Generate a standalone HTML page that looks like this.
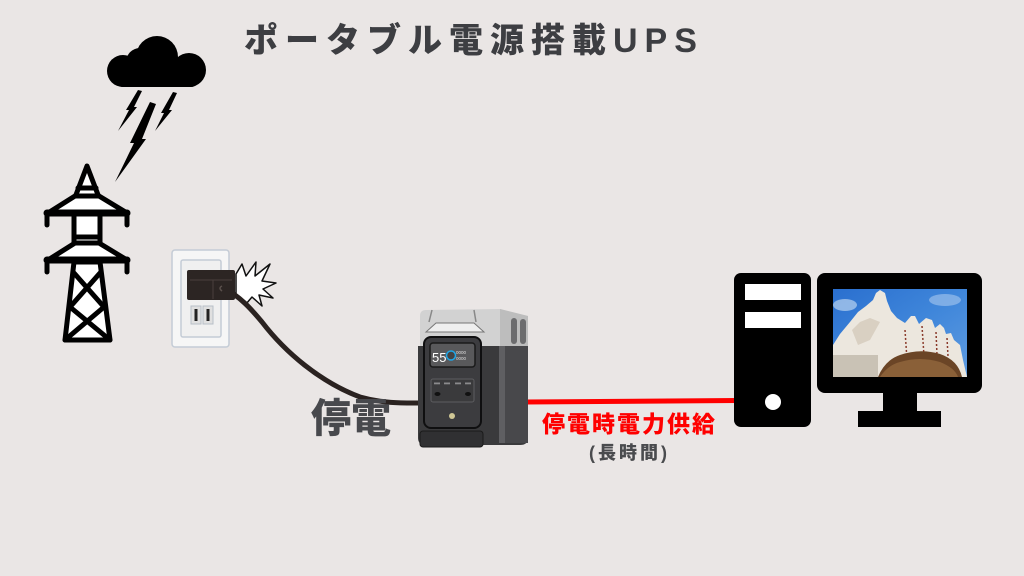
<!DOCTYPE html>
<html><head><meta charset="utf-8">
<style>
html,body{margin:0;padding:0;}
body{width:1024px;height:576px;overflow:hidden;background:#eae6e5;position:relative;font-family:"Liberation Sans","Noto Sans CJK JP",sans-serif;}
.t{position:absolute;white-space:nowrap;font-weight:900;line-height:1;}
svg{position:absolute;left:0;top:0;}
</style></head>
<body>
<svg width="1024" height="576" viewBox="0 0 1024 576">
  <!-- cloud -->
  <g fill="#000">
    <circle cx="157" cy="57" r="21"/>
    <circle cx="123" cy="71" r="16"/>
    <circle cx="189" cy="70" r="17"/>
    <circle cx="140" cy="62" r="14"/>
    <rect x="115" y="66" width="84" height="21" rx="8"/>
    <!-- bolts -->
    <polygon points="138,90 142,91 134,107 137,107 118,131 129,110 126,110"/>
    <polygon points="150,102 156,104 142,139 146,139 115,182 134,143 130,143"/>
    <polygon points="173,92 177,93 169,110 172,110 155,131 164,113 161,113"/>
  </g>
  <!-- power tower -->
  <g stroke="#000" stroke-width="5" fill="#fff" stroke-linejoin="round" stroke-linecap="round">
    <polygon points="87,166 74,200 100,200" />
    <rect x="74" y="200" width="26" height="62" />
    <polygon points="74,262 100,262 110,340 65,340" />
    <polygon points="75,196 48,213 127,213 99,196" />
    <polygon points="75,243 48,260 127,260 99,243" />
    <line x1="47" y1="213" x2="127" y2="213" stroke-width="7"/>
    <line x1="47" y1="260" x2="127" y2="260" stroke-width="7"/>
    <line x1="47" y1="213" x2="47" y2="225"/>
    <line x1="127" y1="213" x2="127" y2="225"/>
    <line x1="47" y1="260" x2="47" y2="272"/>
    <line x1="127" y1="260" x2="127" y2="272"/>
    <line x1="78" y1="188" x2="96" y2="188"/>
    <line x1="74" y1="237" x2="100" y2="237"/>
    <line x1="74" y1="273" x2="104" y2="307"/>
    <line x1="100" y1="273" x2="70" y2="307"/>
    <line x1="70" y1="307" x2="110" y2="340"/>
    <line x1="104" y1="307" x2="65" y2="340"/>
  </g>
  <!-- outlet -->
  <rect x="172" y="250" width="57" height="97" rx="3" fill="#f6f6f6" stroke="#c4ccd6" stroke-width="1.5"/>
  <rect x="181" y="260" width="40" height="77" rx="2" fill="#f0f0f0" stroke="#c4ccd6" stroke-width="1.5"/>
  <rect x="191" y="306" width="10" height="18" fill="#e0e0e0" stroke="#b8bfc8" stroke-width="1"/>
  <rect x="203" y="306" width="10" height="18" fill="#e0e0e0" stroke="#b8bfc8" stroke-width="1"/>
  <rect x="194.5" y="309" width="3" height="12" fill="#222"/>
  <rect x="206.5" y="309" width="3" height="12" fill="#222"/>
  <!-- spark -->
  <polygon points="236,274 242,264 246,276 256,262 255,276 270,264 262,281 276,283 263,289 273,298 259,295 262,306 252,297 246,304 236,296" fill="#fff" stroke="#111" stroke-width="1.5" stroke-linejoin="round"/>
  <!-- cable -->
  <path d="M222,287 C240,296 252,310 262,322 C285,352 320,382 360,397 C385,404 405,403 425,403" fill="none" stroke="#2a2220" stroke-width="5" stroke-linecap="round"/>
  <!-- plug -->
  <rect x="187" y="270" width="48" height="30" rx="2" fill="#2c2523"/>
  <line x1="190" y1="280" x2="232" y2="280" stroke="#4a403d" stroke-width="1"/>
  <line x1="213" y1="280" x2="213" y2="299" stroke="#4a403d" stroke-width="1"/>
  <path d="M222,286 q-4,2 0,5" stroke="#5a504c" stroke-width="1.5" fill="none"/>

  <!-- red line -->
  <line x1="526" y1="402" x2="737" y2="400.5" stroke="#ff0000" stroke-width="5"/>

  <!-- power station -->
  <path d="M420,346 L420,316 Q420,310 426,310 L500,309 L528,316 L528,346 Z" fill="#d2d2d2"/>
  <path d="M500,309 L528,316 L528,346 L500,346 Z" fill="#bdbdbd"/>
  <rect x="511" y="318" width="6" height="26" rx="3" fill="#6c6c6e"/>
  <rect x="520" y="319" width="6" height="25" rx="3" fill="#6c6c6e"/>
  <path d="M432,310 L429,322 M474,310 L476,322" stroke="#888" stroke-width="1.5"/>
  <path d="M426,332 L436,323 L474,323 L484,332 Z" fill="#efefef" stroke="#777" stroke-width="1"/>
  <path d="M418,346 L528,346 L528,438 Q528,445 520,445 L426,445 Q418,445 418,438 Z" fill="#3a3a3c"/>
  <rect x="500" y="346" width="28" height="97" fill="#48484b"/>
  <rect x="499" y="346" width="6" height="97" fill="#5f5f62"/>
  <rect x="424" y="337" width="57" height="91" rx="7" fill="#3c3c3f" stroke="#0f0f10" stroke-width="2"/>
  <rect x="430" y="343" width="45" height="24" rx="3" fill="#59595b" stroke="#1a1a1a" stroke-width="1.5"/>
  <text x="432" y="362" font-family="Liberation Sans, sans-serif" font-size="13" fill="#fff">55</text>
  <circle cx="451" cy="355.5" r="4.5" fill="#444" stroke="#1fa6e6" stroke-width="1.5"/>
  <text x="456" y="354" font-family="Liberation Sans, sans-serif" font-size="4.5" fill="#ddd">0000</text>
  <text x="456" y="360" font-family="Liberation Sans, sans-serif" font-size="4.5" fill="#ddd">0000</text>
  <rect x="431" y="379" width="43" height="23" rx="2" fill="#3a3a3c" stroke="#5d5d60" stroke-width="1"/>
  <g fill="#8a8a8c">
    <rect x="434" y="382.5" width="6" height="1.8"/>
    <rect x="444" y="382.5" width="6" height="1.8"/>
    <rect x="455" y="382.5" width="6" height="1.8"/>
    <rect x="465" y="382.5" width="6" height="1.8"/>
  </g>
  <ellipse cx="437.5" cy="394" rx="3" ry="2" fill="#111"/>
  <ellipse cx="468" cy="394" rx="3" ry="2" fill="#111"/>
  <circle cx="452" cy="416" r="3" fill="#cfc795"/>
  <rect x="420" y="431" width="63" height="16" rx="3" fill="#303032" stroke="#1a1a1a" stroke-width="1"/>

  <!-- PC tower -->
  <rect x="734" y="273" width="77" height="154" rx="7" fill="#000"/>
  <rect x="745" y="284" width="56" height="16" fill="#fff"/>
  <rect x="745" y="312" width="56" height="16" fill="#fff"/>
  <circle cx="773" cy="402" r="8" fill="#fff"/>
  <!-- monitor -->
  <rect x="817" y="273" width="165" height="120" rx="8" fill="#000"/>
  <rect x="883" y="392" width="34" height="20" fill="#000"/>
  <rect x="858" y="411" width="83" height="16" fill="#000"/>
  <defs>
    <linearGradient id="sky" x1="0" y1="0" x2="1" y2="1">
      <stop offset="0" stop-color="#2a6fcf"/>
      <stop offset="0.5" stop-color="#3f86da"/>
      <stop offset="1" stop-color="#5e9be0"/>
    </linearGradient>
    <clipPath id="scr"><rect x="833" y="289" width="134" height="88"/></clipPath>
  </defs>
  <g clip-path="url(#scr)">
    <rect x="833" y="289" width="134" height="88" fill="url(#sky)"/>
    <ellipse cx="845" cy="305" rx="12" ry="6" fill="#b9d3f0" opacity="0.7"/>
    <ellipse cx="945" cy="300" rx="16" ry="6" fill="#a8c8ee" opacity="0.6"/>
    <path d="M833,345 L840,334 L850,322 L858,312 L866,306 L873,300 L876,293 L880,290 L885,293 L887,301 L891,311 L897,318 L905,323 L911,316 L915,316 L919,324 L926,318 L932,320 L935,328 L940,324 L944,328 L946,334 L951,333 L954,340 L960,345 L963,360 L967,377 L833,377 Z" fill="#ece7de"/>
    <path d="M852,330 L860,322 L870,318 L880,322 L870,340 L858,345 Z" fill="#d9d0c2"/>
    <path d="M905,330 L907,360 M922,326 L924,356 M936,332 L937,355 M947,338 L948,356" stroke="#8a3a2a" stroke-width="1.5" stroke-dasharray="2,2"/>
    <path d="M878,377 Q885,360 900,355 Q920,348 940,354 Q958,360 962,377 Z" fill="#6b4526"/>
    <path d="M880,377 Q888,365 900,362 Q920,356 940,362 Q955,368 958,377 Z" fill="#8a6038"/>
    <rect x="833" y="355" width="45" height="22" fill="#c9c2b5"/>
  </g>
</svg>

<div class="t" style="left:244px;top:24px;font-size:34px;letter-spacing:7px;color:#3d3e42;">ポータブル電源搭載UPS</div>
<div class="t" style="left:311px;top:399px;font-size:40px;letter-spacing:0px;color:#48494d;">停電</div>
<div class="t" style="left:542px;top:413px;font-size:23px;letter-spacing:2px;color:#ff0000;">停電時電力供給</div>
<div class="t" style="left:589px;top:444px;font-size:18px;letter-spacing:3px;color:#4a4b4e;">(長時間)</div>
</body></html>
